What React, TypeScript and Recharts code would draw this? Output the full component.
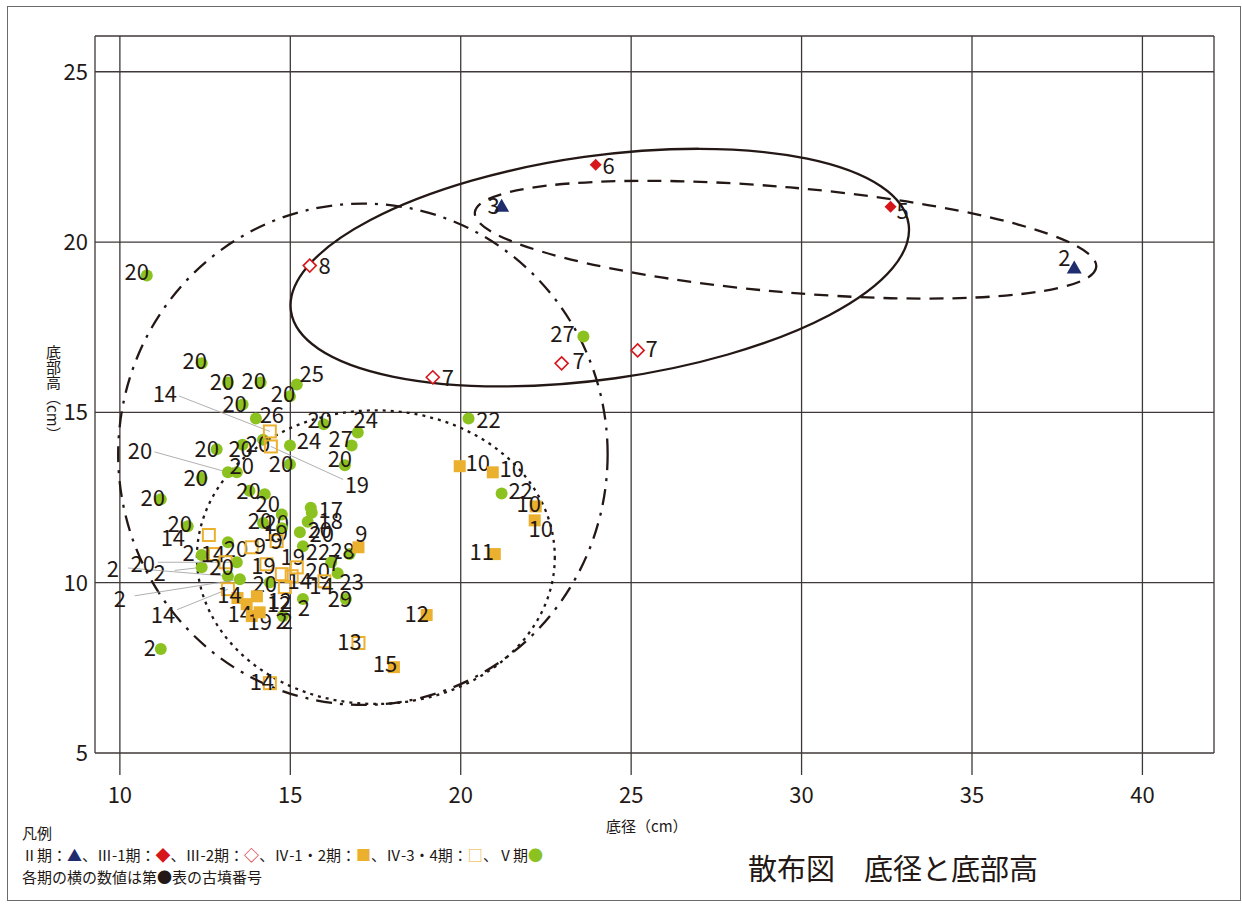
import React from "react"
import { ScatterChart, Scatter, XAxis, YAxis, CartesianGrid, ReferenceArea } from "recharts"

// 底径 (x), 底部高 (y), 古墳番号 — one group per 期
const p2X = [21.2, 38.0]
const p2Y = [21.07, 19.25]
const p2No = ["3", "2"]

const p31X = [23.96, 32.61]
const p31Y = [22.27, 21.04]
const p31No = ["6", "5"]

const p32X = [15.57, 19.18, 22.96, 25.19]
const p32Y = [19.31, 16.03, 16.44, 16.82]
const p32No = ["8", "7", "7", "7"]

const p412X = [19.97, 20.94, 22.2, 22.17, 21.0, 19.0, 18.04, 17.0, 13.72, 13.87, 14.1, 14.02, 13.45]
const p412Y = [13.42, 13.24, 12.24, 11.83, 10.84, 9.05, 7.52, 11.04, 9.37, 9.02, 9.13, 9.6, 9.55]
const p412No = ["10", "10", "10", "10", "11", "12", "15", "9", "14", "19", "2", "12", "14"]

const p434X = [12.61, 14.4, 14.43, 12.79, 13.1, 13.17, 13.87, 14.6, 14.3, 14.75, 14.84, 15.04, 15.19, 16.0, 17.0, 14.4]
const p434Y = [11.4, 14.44, 14.0, 10.84, 10.6, 9.81, 11.04, 11.22, 10.54, 10.25, 9.87, 10.19, 10.45, 10.04, 8.23, 7.05]
const p434No = ["14", "14", "19", "14", "20", "14", "9", "9", "19", "19", "12", "14", "20", "14", "13", "14"]

const p5X = [10.79, 23.6, 20.23, 21.2, 11.2, 15.19, 16.98, 16.8, 16.6, 15.98, 14.99, 16.63, 16.39, 16.74, 15.6, 15.63, 15.51,
  14.99, 13.99, 14.99, 12.4, 13.17, 14.13, 13.6, 12.84, 13.17, 13.43, 12.4, 13.8, 11.2, 11.99, 13.6, 14.2, 14.25, 14.75,
  14.2, 14.75, 12.4, 12.4, 13.17, 13.17, 13.43, 13.52, 14.4, 14.78, 15.28, 15.37, 15.37, 16.2]
const p5Y = [19.02, 17.23, 14.82, 12.62, 8.05, 15.82, 14.41, 14.03, 13.45, 14.65, 14.03, 9.52, 10.28, 10.84, 12.2, 12.05, 11.79,
  13.48, 14.82, 15.47, 16.44, 15.88, 15.88, 15.23, 13.92, 13.24, 13.24, 13.07, 12.7, 12.45, 11.66, 14.05, 14.2, 12.6, 12.0,
  11.75, 11.6, 10.81, 10.45, 11.19, 10.19, 10.6, 10.1, 10.01, 9.02, 11.48, 11.07, 9.52, 10.6]
const p5No = ["20", "27", "22", "22", "2", "25", "24", "27", "20", "20", "24", "29", "23", "28", "17", "18", "20",
  "20", "26", "20", "20", "20", "20", "20", "20", "20", "20", "20", "20", "20", "20", "20", "20", "20", "20",
  "20", "19", "2", "2", "20", "2", "20", "2", "20", "2", "20", "22", "2", "7"]

// where each number sits relative to its mark (px)
const p2At = [[-8, -2], [-10, -12]]
const p31At = [[13, -1], [12, 2]]
const p32At = [[15, -2], [15, -1], [17, -4], [14, -3]]
const p412At = [[18, -5], [19, -5], [-7, -4], [6, 7], [-13, -4], [-10, -3], [-9, -5], [3, -15], [-7, 8], [8, 4], [22, 7], [22, 6], [-8, -5]]
const p434At = [[-36, 1], [-105, -39], [86, 37], [-2, -2], [-4, 3], [-65, 24], [8, -3], [0, -2], [-3, 0], [11, -19], [-5, 12],
  [8, 3], [21, 2], [-3, 3], [-9, -3], [-8, -3]]
const p5At = [[-10, -5], [-21, -4], [20, -1], [19, -4], [-11, -3], [15, -12], [8, -14], [-11, -8], [-5, -8], [-4, -6], [19, -6],
  [-6, -2], [14, 7], [-7, -5], [20, 0], [19, 6], [14, 10], [-9, -2], [16, -6], [-7, -4], [-7, -4], [-6, -2], [-7, -3], [-8, -3],
  [-10, -2], [-88, -23], [5, -8], [-6, -2], [-1, -2], [-8, -3], [-8, -4], [-2, 2], [-5, 2], [3, 8], [-5, 6], [-3, -4], [-6, 3],
  [-13, -4], [-42, 4], [8, 5], [-115, -9], [-94, 0], [-120, 18], [-5, 0], [4, 3], [20, -4], [15, 4], [1, 7], [3, -1]]

// grouping outlines: centre, radii (data units), tilt (deg)
const ringCx = [24.08, 29.53, 17.13, 17.51]
const ringCy = [19.25, 20.07, 13.77, 10.75]
const ringRx = [9.15, 9.15, 7.18, 5.25]
const ringRy = [3.28, 1.54, 7.36, 4.31]
const ringTilt = [-8, 5, 0, 0]
const ringDash = ["", "14 9", "16 8 3 8", "3 5"]

const xTicks = [10, 15, 20, 25, 30, 35, 40]
const yTicks = [5, 10, 15, 20, 25]

const INK = "#231815"
const NAVY = "#1f2d6e"
const RED = "#d7161c"
const ORANGE = "#ecb02f"
const GREEN = "#8cc21f"
const FONT = "'Noto Sans CJK JP', 'Noto Sans', sans-serif"

const toPoints = (xs: number[], ys: number[], nos: string[], at: number[][]) =>
  xs.map((x, i) => ({ x, y: ys[i], no: nos[i], dx: at[i][0], dy: at[i][1] }))

function marker(kind: string, cx: number, cy: number) {
  switch (kind) {
    case "tri":
      return <path d={`M${cx},${cy - 7}L${cx + 7.5},${cy + 6}L${cx - 7.5},${cy + 6}Z`} fill={NAVY} />
    case "dia":
      return <path d={`M${cx},${cy - 6}L${cx + 6},${cy}L${cx},${cy + 6}L${cx - 6},${cy}Z`} fill={RED} />
    case "diaO":
      return <path d={`M${cx},${cy - 6.5}L${cx + 6.5},${cy}L${cx},${cy + 6.5}L${cx - 6.5},${cy}Z`} fill="#fff" stroke={RED} strokeWidth={1.6} />
    case "sq":
      return <rect x={cx - 6} y={cy - 6} width={12} height={12} fill={ORANGE} />
    case "sqO":
      return <rect x={cx - 6} y={cy - 6} width={12} height={12} fill="none" stroke={ORANGE} strokeWidth={2} />
    default:
      return <circle cx={cx} cy={cy} r={6} fill={GREEN} />
  }
}

const makeShape = (kind: string) => (props: any) => {
  const { cx, cy, payload } = props
  if (cx == null || cy == null) return <g />
  const lx = cx + payload.dx
  const ly = cy + payload.dy
  const far = Math.hypot(payload.dx, payload.dy) > 40
  let leader = null
  if (far) {
    const d = Math.hypot(payload.dx, payload.dy)
    leader = <line x1={cx} y1={cy} x2={lx - (payload.dx / d) * 15} y2={ly - (payload.dy / d) * 10} stroke="#a7a7a7" strokeWidth={0.9} />
  }
  return (
    <g>
      {leader}
      {marker(kind, cx, cy)}
      <text x={lx} y={ly} textAnchor="middle" dominantBaseline="central" fontSize={22} fontFamily={FONT} fill={INK}>
        {payload.no}
      </text>
    </g>
  )
}

const ringShape = (i: number) => (props: any) => {
  const { x, y, width, height } = props
  if (x == null || width == null) return <g />
  const cx = x + width / 2
  const cy = y + Math.abs(height) / 2
  return (
    <ellipse
      cx={cx}
      cy={height < 0 ? y + height / 2 : cy}
      rx={Math.abs(width) / 2}
      ry={Math.abs(height) / 2}
      transform={`rotate(${ringTilt[i]} ${cx} ${height < 0 ? y + height / 2 : cy})`}
      fill="none"
      stroke={INK}
      strokeWidth={2.3}
      strokeDasharray={ringDash[i] || undefined}
    />
  )
}

const series = [
  { kind: "tri", data: toPoints(p2X, p2Y, p2No, p2At) },
  { kind: "dia", data: toPoints(p31X, p31Y, p31No, p31At) },
  { kind: "diaO", data: toPoints(p32X, p32Y, p32No, p32At) },
  { kind: "circ", data: toPoints(p5X, p5Y, p5No, p5At) },
  { kind: "sqO", data: toPoints(p434X, p434Y, p434No, p434At) },
  { kind: "sq", data: toPoints(p412X, p412Y, p412No, p412At) },
]

export default function App() {
  return (
    <div style={{ position: "absolute", left: 0, top: 0, width: 1242, height: 906, background: "#fff", fontFamily: FONT, color: INK }}>
      <div style={{ position: "absolute", left: 7, top: 6, width: 1232, height: 893, border: "1.5px solid #6b6b6b" }} />
      <ScatterChart width={1242} height={906} margin={{ top: 36, right: 28, bottom: 93, left: 35 }}>
        <CartesianGrid stroke="#3f3838" strokeWidth={1.3} />
        <XAxis
          type="number"
          dataKey="x"
          domain={[9.27, 42.1]}
          ticks={xTicks}
          allowDataOverflow
          height={60}
          axisLine={false}
          tickLine={{ stroke: "#3f3838", strokeWidth: 1.3 }}
          tickSize={22}
          tickMargin={12}
          tick={{ fontSize: 22, fill: INK, fontFamily: FONT }}
        />
        <YAxis
          type="number"
          dataKey="y"
          domain={[5, 26.05]}
          ticks={yTicks}
          allowDataOverflow
          width={60}
          axisLine={false}
          tickLine={false}
          tickMargin={1}
          tick={{ fontSize: 22, fill: INK, fontFamily: FONT }}
        />
        {ringCx.map((c, i) => (
          <ReferenceArea
            key={`ring-${i}`}
            x1={c - ringRx[i]}
            x2={c + ringRx[i]}
            y1={ringCy[i] - ringRy[i]}
            y2={ringCy[i] + ringRy[i]}
            ifOverflow="visible"
            shape={ringShape(i)}
          />
        ))}
        {series.map((s) => (
          <Scatter key={s.kind} data={s.data} shape={makeShape(s.kind)} isAnimationActive={false} />
        ))}
      </ScatterChart>

      <div style={{ position: "absolute", left: 606, top: 815, fontSize: 15 }}>底径（cm）</div>
      <div style={{ position: "absolute", left: 43, top: 345, fontSize: 15, writingMode: "vertical-rl" }}>底部高（cm）</div>

      <div style={{ position: "absolute", left: 22, top: 822, fontSize: 15, lineHeight: "22px" }}>
        <div>凡例</div>
        <div>
          Ⅱ期：<span style={{ color: NAVY }}>▲</span>、Ⅲ-1期：<span style={{ color: RED }}>◆</span>、Ⅲ-2期：
          <span style={{ color: RED }}>◇</span>、Ⅳ-1・2期：<span style={{ color: ORANGE }}>■</span>、Ⅳ-3・4期：
          <span style={{ color: ORANGE }}>□</span>、Ⅴ期<span style={{ color: GREEN }}>●</span>
        </div>
        <div>各期の横の数値は第●表の古墳番号</div>
      </div>

      <div style={{ position: "absolute", left: 748, top: 846, fontSize: 29 }}>散布図　底径と底部高</div>
    </div>
  )
}
